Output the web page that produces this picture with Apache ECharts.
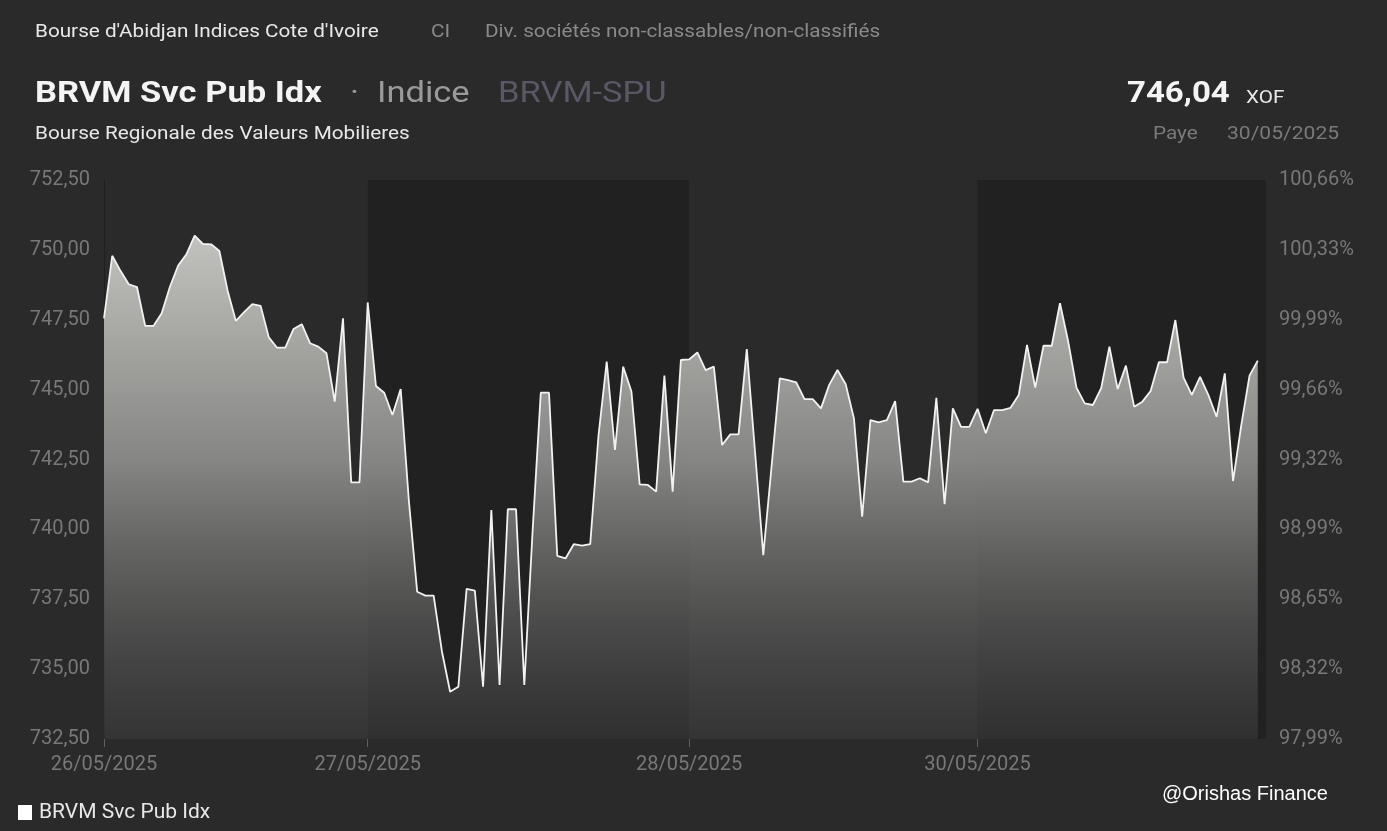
<!DOCTYPE html>
<html>
<head>
<meta charset="utf-8">
<script src="https://cdn.jsdelivr.net/npm/echarts/dist/echarts.min.js"></script>
<style>
html,body{margin:0;padding:0;background:#2a2a2a;}
#chart{width:1387px;height:831px;}
</style>
</head>
<body>
<div id="chart"></div>
<script>
// ---- data ----
const dayLabels = ['26/05/2025', '27/05/2025', '28/05/2025', '30/05/2025'];
const dayCounts = [32, 39, 35, 35];
const values = [
  747.55, 749.79, 749.25, 748.77, 748.67, 747.28, 747.28, 747.73, 748.68, 749.44,
  749.84, 750.51, 750.21, 750.20, 749.96, 748.54, 747.46, 747.77, 748.06, 748.00,
  746.87, 746.50, 746.50, 747.17, 747.34, 746.66, 746.54, 746.30, 744.57, 747.55,
  741.68, 741.68,
  748.12, 745.13, 744.89, 744.09, 745.02, 741.00, 737.77, 737.63, 737.63, 735.64,
  734.19, 734.37, 737.87, 737.81, 734.37, 740.69, 734.43, 740.72, 740.72, 734.43,
  739.90, 744.89, 744.89, 739.05, 738.96, 739.47, 739.42, 739.47, 743.35, 746.00,
  742.84, 745.82, 744.93, 741.61, 741.59, 741.35, 745.50, 741.35, 746.06,
  746.08, 746.33, 745.70, 745.82, 743.02, 743.40, 743.40, 746.45, 742.77, 739.08,
  742.24, 745.40, 745.34, 745.26, 744.66, 744.66, 744.33, 745.17, 745.70, 745.19,
  743.97, 740.45, 743.91, 743.83, 743.91, 744.59, 741.71, 741.71, 741.83, 741.68,
  744.71, 740.90, 744.33, 743.67, 743.67,
  744.31, 743.44, 744.27, 744.27, 744.35, 744.81, 746.60, 745.07, 746.57, 746.57,
  748.09, 746.72, 745.07, 744.51, 744.45, 745.05, 746.54, 745.02, 745.86, 744.39,
  744.57, 744.95, 745.98, 745.98, 747.49, 745.43, 744.81, 745.46, 744.81, 744.03,
  745.58, 741.73, 743.73, 745.50, 746.04
];
const leftMin = 732.5, leftMax = 752.5, leftStep = 2.5;
const rightTickLabels = ['97,99%', '98,32%', '98,65%', '98,99%', '99,32%', '99,66%', '99,99%', '100,33%', '100,66%'];
const seriesName = 'BRVM Svc Pub Idx';

// ---- build categories ----
const categories = [];
const dayStart = [];
dayLabels.forEach((d, k) => {
  dayStart.push(categories.length);
  for (let j = 0; j < dayCounts[k]; j++) categories.push(d + '|' + j);
});
categories.push('end|');
const lastCat = categories[categories.length - 1];

const fontFam = 'Roboto, "Noto Sans", sans-serif';
const fmt = v => v.toFixed(2).replace('.', ',');

function txt(x, y, text, size, color, weight, sx, family) {
  return {
    type: 'text', x: x, y: y, scaleX: sx === undefined ? 1.15 : sx, silent: true,
    style: { text: text, fontSize: size, fill: color, fontWeight: weight || 'normal',
      fontFamily: family || fontFam, verticalAlign: 'middle', align: 'left' }
  };
}

const chart = echarts.init(document.getElementById('chart'));
chart.setOption({
  backgroundColor: '#2a2a2a',
  animation: false,
  grid: { left: 104, right: 121, top: 180, bottom: 92 },
  legend: {
    data: [seriesName], left: 13, top: 797, icon: 'rect', itemWidth: 14, itemHeight: 15, itemGap: 10,
    textStyle: { color: '#e8e8e8', fontSize: 21, fontFamily: fontFam, padding: [0, 0, 0, 2] },
    selectedMode: false
  },
  xAxis: {
    type: 'category', data: categories, boundaryGap: false,
    axisLine: { show: false },
    axisTick: { show: true, length: 8, lineStyle: { color: '#5e5e5e' },
      interval: (idx) => dayStart.includes(idx) },
    axisLabel: { color: '#787878', fontSize: 20, fontFamily: fontFam, margin: 16,
      interval: (idx) => dayStart.includes(idx),
      formatter: (v) => v.split('|')[0] },
    splitLine: { show: false }
  },
  yAxis: [
    { type: 'value', min: leftMin, max: leftMax, interval: leftStep, position: 'left',
      axisLine: { show: true, lineStyle: { color: '#1f1f1f', width: 1 } }, axisTick: { show: false },
      splitLine: { show: false },
      axisLabel: { color: '#787878', fontSize: 20, fontFamily: fontFam, margin: 14,
        showMinLabel: true, showMaxLabel: true, formatter: (v) => fmt(v) } },
    { type: 'value', min: leftMin, max: leftMax, interval: leftStep, position: 'right',
      axisLine: { show: false }, axisTick: { show: false }, splitLine: { show: false },
      axisLabel: { color: '#787878', fontSize: 20, fontFamily: fontFam, margin: 13,
        showMinLabel: true, showMaxLabel: true,
        formatter: (v) => rightTickLabels[Math.round((v - leftMin) / leftStep)] } }
  ],
  series: [
    { type: 'line', name: 'bands', data: [], z: 1, silent: true,
      markArea: { silent: true, itemStyle: { color: '#212121' },
        data: [
          [{ xAxis: categories[dayStart[1]] }, { xAxis: categories[dayStart[2]] }],
          [{ xAxis: categories[dayStart[3]] }, { xAxis: lastCat }]
        ] } },
    { type: 'line', name: seriesName, data: values, z: 3, showSymbol: false, symbol: 'none',
      itemStyle: { color: '#ffffff' },
      lineStyle: { color: '#f2f2f2', width: 1.8 },
      areaStyle: { opacity: 1, color: new echarts.graphic.LinearGradient(0, 0, 0, 1, [
        { offset: 0, color: 'rgba(194,194,190,1)' },
        { offset: 0.45, color: 'rgba(136,136,134,0.97)' },
        { offset: 1, color: 'rgba(66,66,66,0.45)' }
      ]) } }
  ],
  graphic: [
    txt(35, 32, "Bourse d'Abidjan Indices Cote d'Ivoire", 18, '#e8e8e8'),
    txt(431, 32, 'CI', 18, '#8a8a8a'),
    txt(485, 32, 'Div. sociétés non-classables/non-classifiés', 18, '#8a8a8a'),
    txt(35, 94, seriesName, 30, '#f4f4f4', 'bold'),
    txt(350, 94, '·', 30, '#9a9a9a'),
    txt(377, 94, 'Indice', 30, '#9a9a9a'),
    txt(498, 94, 'BRVM-SPU', 30, '#5b5866'),
    txt(35, 134, 'Bourse Regionale des Valeurs Mobilieres', 18, '#e8e8e8'),
    txt(1127, 94, fmt(values[values.length - 1]), 30, '#f4f4f4', 'bold', 1.1),
    txt(1246, 98, 'XOF', 18, '#e8e8e8'),
    txt(1153, 134, 'Paye', 18, '#7a7a7a'),
    txt(1227, 134, dayLabels[dayLabels.length - 1], 18, '#7a7a7a', 'normal', 1.17),
    txt(1162, 794, '@Orishas Finance', 20, '#ffffff', 'normal', 1, '"Liberation Sans", Arial, sans-serif')
  ]
});
</script>
</body>
</html>
